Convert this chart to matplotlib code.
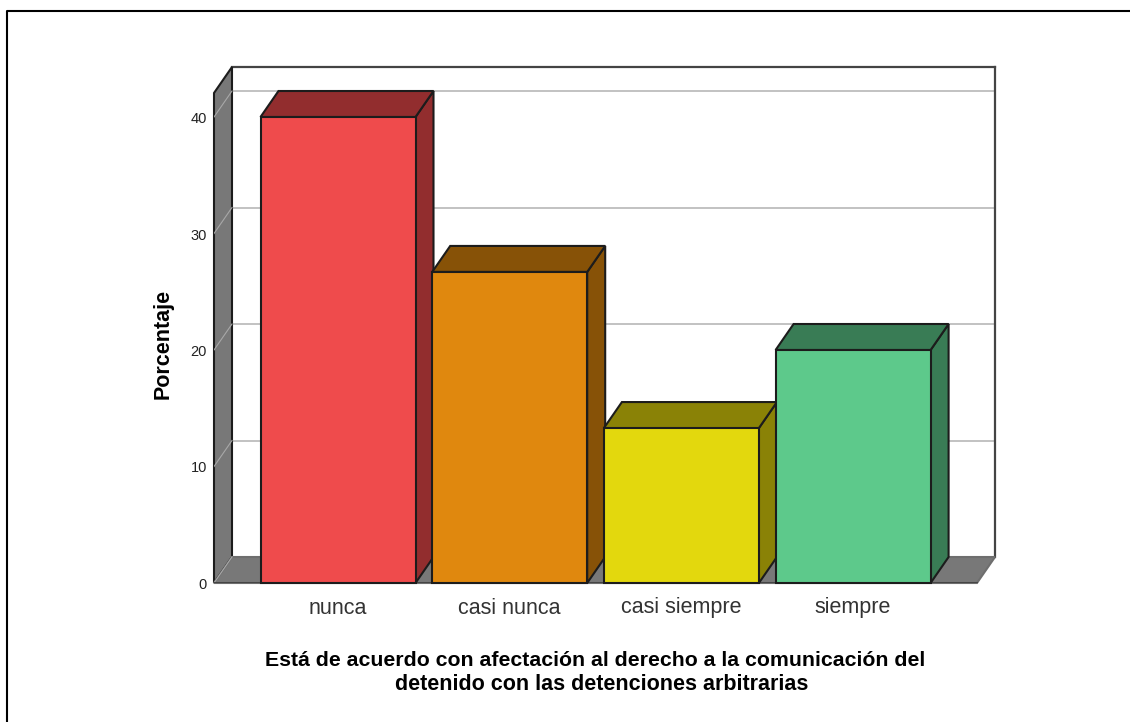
import matplotlib
matplotlib.use("Agg")
import matplotlib.pyplot as plt
from matplotlib.patches import Polygon

categories = ["nunca", "casi nunca", "casi siempre", "siempre"]
porcentaje = [40.0, 26.7, 13.3, 20.0]
y_ticks = [0, 10, 20, 30, 40]
front_colors = ["#EF4B4C", "#E0880E", "#E3D80D", "#5DC98B"]
side_colors = ["#922D2E", "#875207", "#8A8206", "#397C55"]
y_label = "Porcentaje"
x_label_1 = "Está de acuerdo con afectación al derecho a la comunicación del"
x_label_2 = "detenido con las detenciones arbitrarias"

W, H = 1130, 722

fig = plt.figure(figsize=(W / 100, H / 100), dpi=100)
ax = fig.add_axes([214 / W, 1 - 583 / H, (995 - 214) / W, (583 - 67) / H])
ax.set_xlim((214 - 338) / 171.7, (995 - 338) / 171.7)
ax.set_ylim(0, (583 - 67) / 11.65)
ax.axis("off")

# depth of the fake 3d, in data units
dx = 18 / 171.7
dy = 26 / 11.65
x0, x1 = ax.get_xlim()
y1 = ax.get_ylim()[1]
x_front = x1 - dx
y_front = y1 - dy
dark = "#1c1c1c"
gray = "#787878"


def poly(pts, color, edge=dark, lw=1.5, z=2):
    ax.add_patch(Polygon(pts, closed=True, facecolor=color, edgecolor=edge,
                         linewidth=lw, zorder=z, clip_on=False, joinstyle="miter"))


# back wall
poly([(x0 + dx, dy), (x1, dy), (x1, y1), (x0 + dx, y1)], "white", edge="none", z=1)
for t in y_ticks[1:]:
    ax.plot([x0 + dx, x1], [t + dy, t + dy], color="#bdbdbd", lw=1.3, zorder=1.5)
ax.plot([x0 + dx, x1], [y1, y1], color="#444444", lw=1.6, zorder=1.5, clip_on=False)
ax.plot([x1, x1], [dy, y1], color="#444444", lw=1.6, zorder=1.5, clip_on=False)

# left wall and floor
poly([(x0, 0), (x0 + dx, dy), (x0 + dx, y1), (x0, y_front)], gray, z=1.6)
poly([(x0, 0), (x_front, 0), (x1, dy), (x0 + dx, dy)], gray, edge="#6e6e6e", z=1.6)
ax.plot([x0, x0 + dx], [0, dy], color="#a8a8a8", lw=0.8, zorder=1.7)
for t in y_ticks[1:]:
    ax.plot([x0, x0 + dx], [t, t + dy], color="#a8a8a8", lw=0.8, zorder=1.7)
ax.plot([x0, x_front], [0, 0], color="#444444", lw=1.4, zorder=1.8)

# bars
half = 77.5 / 171.7
for i, v in enumerate(porcentaje):
    l, r = i - half, i + half
    z = 3 + i
    poly([(r, 0), (r + dx, dy), (r + dx, v + dy), (r, v)], side_colors[i], z=z)
    poly([(l, v), (r, v), (r + dx, v + dy), (l + dx, v + dy)], side_colors[i], z=z)
    poly([(l, 0), (r, 0), (r, v), (l, v)], front_colors[i], z=z + 0.5)

# tick labels
for t in y_ticks:
    ax.annotate(str(t), (x0, t), xytext=(-7, -2), textcoords="offset pixels",
                ha="right", va="center", fontsize=10.5, family="Liberation Sans", color="#222222")
for i, c in enumerate(categories):
    ax.annotate(c, (i, 0), xytext=(0, -25), textcoords="offset pixels",
                ha="center", va="center", fontsize=15.5, family="Liberation Sans", color="#333333")

fig.text(163 / W, 1 - 344 / H, y_label, rotation=90, ha="center", va="center",
         fontsize=15.5, fontweight="bold", family="Liberation Sans", color="black")
fig.text(595 / W, 1 - 661 / H, x_label_1, ha="center", va="center", fontsize=15.3,
         fontweight="bold", family="Liberation Sans", color="black")
fig.text(601.5 / W, 1 - 685 / H, x_label_2, ha="center", va="center", fontsize=15.5,
         fontweight="bold", family="Liberation Sans", color="black")

# outer frame of the screenshot, only top and left
fig.add_artist(plt.Line2D([6.5 / W, 6.5 / W, 1], [0, 1 - 10.5 / H, 1 - 10.5 / H],
                          transform=fig.transFigure, color="black", linewidth=1.5))

fig.savefig("out.png", dpi=100)
